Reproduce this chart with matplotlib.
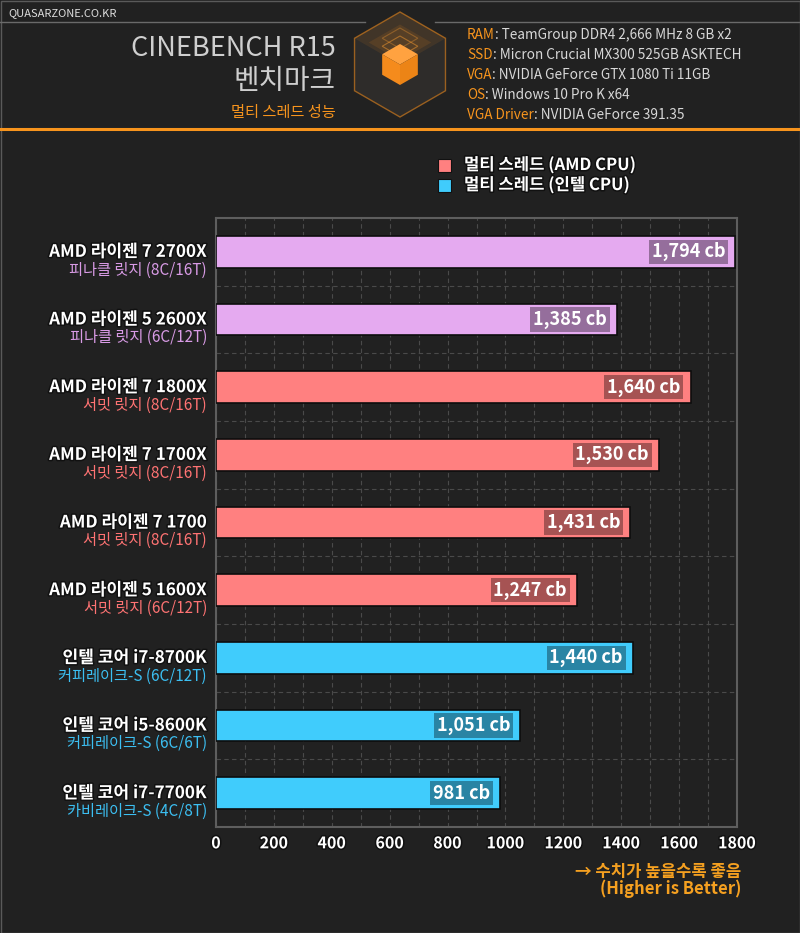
import matplotlib
matplotlib.use("Agg")
import matplotlib.pyplot as plt
import matplotlib.patheffects as pe
from matplotlib.patches import Polygon, Rectangle
import numpy as np

plt.rcParams['font.family'] = ['Noto Sans CJK KR', 'DejaVu Sans']

# chart data (top to bottom)
cpu_names = ['AMD 라이젠 7 2700X', 'AMD 라이젠 5 2600X', 'AMD 라이젠 7 1800X',
             'AMD 라이젠 7 1700X', 'AMD 라이젠 7 1700', 'AMD 라이젠 5 1600X',
             '인텔 코어 i7-8700K', '인텔 코어 i5-8600K', '인텔 코어 i7-7700K']
cpu_subtitles = ['피나클 릿지 (8C/16T)', '피나클 릿지 (6C/12T)', '서밋 릿지 (8C/16T)',
                 '서밋 릿지 (8C/16T)', '서밋 릿지 (8C/16T)', '서밋 릿지 (6C/12T)',
                 '커피레이크-S (6C/12T)', '커피레이크-S (6C/6T)', '카비레이크-S (4C/8T)']
cpu_groups = ['pinnacle', 'pinnacle', 'summit', 'summit', 'summit', 'summit',
              'intel', 'intel', 'intel']
scores = [1794, 1385, 1640, 1530, 1431, 1247, 1440, 1051, 981]

legend_labels = ['멀티 스레드 (AMD CPU)', '멀티 스레드 (인텔 CPU)']
spec_keys = ['RAM', 'SSD', 'VGA', 'OS', 'VGA Driver']
spec_values = [': TeamGroup DDR4 2,666 MHz 8 GB x2', ': Micron Crucial MX300 525GB ASKTECH',
               ': NVIDIA GeForce GTX 1080 Ti 11GB', ': Windows 10 Pro K x64',
               ': NVIDIA GeForce 391.35']

BG = '#212121'
ORANGE = '#f7941d'
bar_colors = {'pinnacle': '#e5aaf0', 'summit': '#ff8080', 'intel': '#40ccfc'}
sub_colors = {'pinnacle': '#d99be6', 'summit': '#ff7373', 'intel': '#3cbff2'}

fig = plt.figure(figsize=(8, 9.33), dpi=100, facecolor=BG)

# background / header layer in pixel coords
bg = fig.add_axes([0, 0, 1, 1], zorder=0)
bg.set_xlim(0, 800)
bg.set_ylim(933, 0)
bg.axis('off')
bg.add_patch(Rectangle((0.5, 0.5), 799, 932, fill=False, edgecolor='#5a5a5a', lw=1))
bg.plot([0, 365], [22, 22], color='#6a6a6a', lw=1)
bg.plot([435, 800], [22, 22], color='#6a6a6a', lw=1)
bg.plot([0, 800], [129, 129], color=ORANGE, lw=2.2)

# logo hexagon with cube
def hexagon(cx, cy, r):
    ang = np.deg2rad(np.arange(90, 450, 60))
    return np.column_stack([cx + r * np.cos(ang), cy - r * np.sin(ang)])

def rhombus(cx, cy, s):
    return [(cx, cy - s), (cx + s * 0.87, cy - s / 2), (cx, cy), (cx - s * 0.87, cy - s / 2)]

hx, hy = 400, 64.5
bg.add_patch(Polygon(hexagon(hx, hy, 52.5), closed=True, facecolor='#2e2c2a',
                     edgecolor='#9a6020', lw=1))
bg.add_patch(Polygon(rhombus(hx, hy, 52.5), facecolor='#f08a1a', alpha=0.10, edgecolor='none'))
bg.add_patch(Polygon(rhombus(hx, hy - 4, 36), facecolor='#f08a1a', alpha=0.12, edgecolor='none'))
for dy, a in [(-16, 0.35), (-8, 0.5)]:
    bg.add_patch(Polygon(rhombus(hx, hy + dy, 20.5), fill=False, edgecolor='#f59a30',
                         alpha=a, lw=0.8))
cx, cy, s = hx, hy, 20.5
bg.add_patch(Polygon(rhombus(cx, cy, s), facecolor='#ffa240', edgecolor='none'))
bg.add_patch(Polygon([(cx - s * 0.87, cy - s / 2), (cx, cy), (cx, cy + s), (cx - s * 0.87, cy + s / 2)],
                     facecolor='#f58b1c', edgecolor='none'))
bg.add_patch(Polygon([(cx, cy), (cx + s * 0.87, cy - s / 2), (cx + s * 0.87, cy + s / 2), (cx, cy + s)],
                     facecolor='#ec8416', edgecolor='none'))

bg.text(8, 13, 'QUASARZONE.CO.KR', color='#dddddd', fontsize=8, va='center', ha='left')
bg.text(336, 49, 'CINEBENCH R15', color='#cfcfcf', fontsize=19.5, va='center', ha='right',
        fontweight='light')
bg.text(336, 81, '벤치마크', color='#cfcfcf', fontsize=20, va='center', ha='right',
        fontweight='light')
bg.text(336, 112, '멀티 스레드 성능', color=ORANGE, fontsize=11, va='center', ha='right')

for i, (k, v) in enumerate(zip(spec_keys, spec_values)):
    t = bg.text(467, 35 + 20 * i, k, color=ORANGE, fontsize=9.8, va='center', ha='left')
    bg.annotate(v, xy=(1, 0.5), xycoords=t, va='center', ha='left',
                color='#d8d8d8', fontsize=9.8)

# legend
stroke = [pe.withStroke(linewidth=2.2, foreground='#111111')]
for i, (lab, grp) in enumerate(zip(legend_labels, ['summit', 'intel'])):
    y = 165 + 20 * i
    bg.add_patch(Rectangle((438, y - 6.5), 13, 13, facecolor=bar_colors[grp],
                           edgecolor='#111111', lw=0.8))
    bg.text(464, y, lab, color='white', fontsize=12, fontweight='bold', va='center',
            ha='left', path_effects=stroke)

bg.text(741, 872, '→ 수치가 높을수록 좋음', color='#f5a020', fontsize=12, fontweight='bold',
        va='center', ha='right')
bg.text(741, 889, '(Higher is Better)', color='#f5a020', fontsize=12, fontweight='bold',
        va='center', ha='right')

# main chart
ax = fig.add_axes([216 / 800, 1 - 827 / 933, (737 - 216) / 800, (827 - 218) / 933], zorder=2)
ax.set_facecolor('none')
y = np.arange(len(scores))
colors = [bar_colors[g] for g in cpu_groups]
ax.barh(y, scores, height=0.47, color=colors, edgecolor='#0d0d0d', lw=1.2, zorder=3)
ax.set_xlim(0, 1800)
ax.set_ylim(len(scores) - 0.5, -0.5)

ax.set_xticks(np.arange(0, 1801, 200))
ax.set_xticks(np.arange(100, 1800, 200), minor=True)
ax.set_yticks([])
ax.set_yticks(np.arange(0.5, len(scores) - 1, 1), minor=True)
ax.grid(True, which='both', axis='x', color='#4a4a4a', ls=(0, (4, 3)), lw=0.8, zorder=0)
ax.grid(True, which='minor', axis='y', color='#4a4a4a', ls=(0, (4, 3)), lw=0.8, zorder=0)
ax.tick_params(axis='both', which='both', length=0)
ax.tick_params(axis='x', colors='white', labelsize=11.5, pad=6)
for lab in ax.get_xticklabels():
    lab.set_fontweight('bold')
    lab.set_path_effects(stroke)
for sp in ax.spines.values():
    sp.set_color('#5e5e5e')
    sp.set_linewidth(1.5)

for i, (name, sub, grp, v) in enumerate(zip(cpu_names, cpu_subtitles, cpu_groups, scores)):
    ax.annotate(name, xy=(0, i), xycoords=('axes fraction', 'data'), xytext=(-9, 0),
                textcoords='offset pixels', ha='right', va='center', color='white',
                fontsize=12.3, fontweight='bold', path_effects=stroke)
    ax.annotate(sub, xy=(0, i), xycoords=('axes fraction', 'data'), xytext=(-9, -18),
                textcoords='offset pixels', ha='right', va='center', color=sub_colors[grp],
                fontsize=11)
    ax.annotate(f'{v:,} cb', xy=(v, i), xytext=(-10, 0), textcoords='offset pixels',
                ha='right', va='center', color='white', fontsize=13, fontweight='bold',
                zorder=5,
                bbox=dict(boxstyle='square,pad=0.15', facecolor='#000000', alpha=0.35,
                          edgecolor='none'))

fig.savefig('out.png', dpi=100, facecolor=BG)
